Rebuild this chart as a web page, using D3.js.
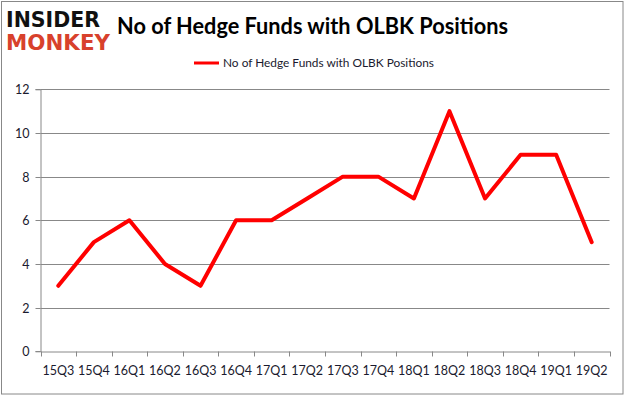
<!DOCTYPE html>
<html><head><meta charset="utf-8">
<script src="https://cdn.jsdelivr.net/npm/d3@7"></script>
<style>body{margin:0;background:#fff}svg{display:block}</style>
</head><body><svg id="c" width="626" height="397"></svg>
<script>
const categories = ["15Q3","15Q4","16Q1","16Q2","16Q3","16Q4","17Q1","17Q2","17Q3","17Q4","18Q1","18Q2","18Q3","18Q4","19Q1","19Q2"];
const values = [3,5,6,4,3,6,6,7,8,8,7,11,7,9,9,5];
const yTicks = [0,2,4,6,8,10,12];
const seriesName = "No of Hedge Funds with OLBK Positions";
const titleText = "No of Hedge Funds with OLBK Positions";

const svg = d3.select("#c");
const font = "Lato, Carlito, 'Liberation Sans', Arial, sans-serif";
const m = {l:40.5, r:609.5, t:89.3, b:351.3};

svg.append("rect").attr("x",1.5).attr("y",1.5).attr("width",621.5).attr("height",392.5)
  .attr("fill","#fff").attr("stroke","#888").attr("stroke-width",1);

const x = d3.scaleBand().domain(categories).range([m.l,m.r]).padding(0);
const y = d3.scaleLinear().domain([0,12]).range([m.b,m.t]);

// gridlines
svg.append("g").selectAll("line").data(yTicks.filter(d=>d>0)).join("line")
  .attr("x1",m.l).attr("x2",m.r).attr("y1",d=>Math.round(y(d))+0.5).attr("y2",d=>Math.round(y(d))+0.5)
  .attr("stroke","#888").attr("stroke-width",1);

// y axis
const ya = svg.append("g").attr("transform",`translate(${m.l},0)`)
  .call(d3.axisLeft(y).tickValues(yTicks).tickSize(5).tickPadding(6).tickFormat(d3.format("d")));
ya.select(".domain").attr("stroke","#888");
ya.selectAll(".tick line").attr("stroke","#888");
ya.selectAll(".tick").attr("transform",d=>`translate(0,${Math.round(y(d))+0.5})`);
ya.selectAll("text").attr("font-family",font).attr("font-size",12.5).attr("fill","#1a1a2e");

// x axis
const xa = svg.append("g").attr("transform",`translate(0,${Math.round(m.b)+0.5})`)
  .call(d3.axisBottom(x).tickSize(0).tickPadding(15));
xa.select(".domain").attr("stroke","#888");
xa.selectAll("text").attr("font-family",font).attr("font-size",12.5).attr("fill","#1a1a2e");
// boundary ticks
const bounds = categories.map(c=>x(c)).concat([m.r]);
xa.append("g").selectAll("line").data(bounds).join("line")
  .attr("x1",d=>Math.round(d)+0.5).attr("x2",d=>Math.round(d)+0.5).attr("y1",0).attr("y2",5)
  .attr("stroke","#888");

// line
const line = d3.line().x((d,i)=>x(categories[i])+x.bandwidth()/2).y(d=>y(d));
svg.append("path").datum(values).attr("d",line).attr("fill","none")
  .attr("stroke","#ff0000").attr("stroke-width",4).attr("stroke-linejoin","round").attr("stroke-linecap","round");

// title
svg.append("text").attr("x",117).attr("y",34).attr("font-family",font).attr("font-size",22).attr("font-weight","bold")
  .attr("textLength",391).attr("lengthAdjust","spacingAndGlyphs").attr("fill","#000").text(titleText);

// legend
svg.append("line").attr("x1",194).attr("x2",219).attr("y1",63).attr("y2",63).attr("stroke","#ff0000").attr("stroke-width",3);
svg.append("text").attr("x",223).attr("y",67).attr("font-family",font).attr("font-size",12)
  .attr("textLength",211).attr("lengthAdjust","spacingAndGlyphs").attr("fill","#1a1a2e").text(seriesName);

// logo
svg.append("text").attr("x",6).attr("y",27).attr("font-family","'DejaVu Sans', sans-serif").attr("font-weight","bold")
  .attr("font-size",21).attr("textLength",94).attr("lengthAdjust","spacingAndGlyphs").attr("fill","#111").text("INSIDER");
svg.append("text").attr("x",6).attr("y",50).attr("font-family","'DejaVu Sans', sans-serif").attr("font-weight","bold")
  .attr("font-size",21).attr("textLength",104).attr("lengthAdjust","spacingAndGlyphs").attr("fill","#d8412c").text("MONKEY");
</script></body></html>
